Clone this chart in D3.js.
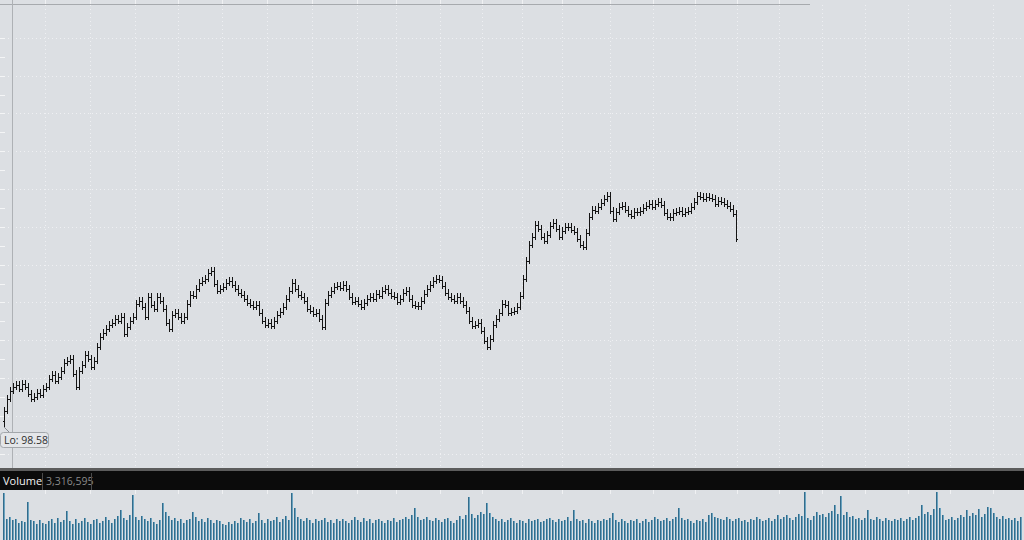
<!DOCTYPE html>
<html><head><meta charset="utf-8">
<script src="https://cdn.jsdelivr.net/npm/d3@7"></script>
<style>html,body{margin:0;padding:0;background:#dcdfe3;overflow:hidden}svg{display:block}</style>
</head><body>
<svg id="c" width="1024" height="540"></svg>
<script>
// ---- data ----
const firstOpen = 99.30;
const lowLabel = 98.58;
const closes = [
100.69,102.28,103.33,103.86,104.13,103.60,104.26,103.86,102.94,102.28,
102.54,103.07,102.81,103.60,103.86,104.92,105.45,104.66,105.19,105.98,
107.04,107.30,107.57,105.58,103.86,105.98,106.77,108.10,107.57,106.51,
107.30,109.16,110.48,111.01,111.54,112.07,112.33,112.86,112.60,113.13,
110.88,111.80,112.60,113.13,114.85,115.24,114.45,113.13,115.77,114.71,
114.18,115.77,115.24,114.18,112.33,111.54,113.39,113.65,113.13,112.60,
113.13,114.85,116.04,115.90,116.83,117.62,117.89,118.15,118.95,119.21,
117.49,116.56,116.83,117.09,117.62,117.89,117.36,116.83,116.30,116.04,
115.51,114.98,114.71,114.45,114.71,113.65,112.60,112.07,112.33,111.93,
112.60,113.39,113.79,114.45,115.51,116.56,117.62,116.83,116.04,115.77,
115.24,114.18,113.92,113.52,113.65,112.86,111.80,114.98,116.04,116.56,
117.09,117.23,116.96,117.36,116.83,115.77,115.11,115.24,114.85,114.45,
114.98,115.51,115.77,115.51,116.17,115.90,116.56,116.83,116.30,115.90,
115.77,115.11,115.51,116.30,116.56,115.51,114.71,114.58,114.50,115.24,
116.17,116.83,117.36,117.89,118.15,118.02,117.23,116.30,115.77,115.51,
115.24,115.77,115.24,114.71,113.92,112.60,111.93,112.07,112.33,111.27,
109.95,109.16,110.21,112.07,112.86,113.65,114.85,114.71,113.65,113.79,
113.92,114.45,115.90,118.15,120.53,122.65,123.71,125.30,124.77,123.71,
123.18,123.97,125.16,125.56,124.77,123.71,124.50,125.03,124.95,124.64,
124.37,123.44,122.65,122.39,124.24,126.36,127.28,127.15,127.68,128.21,
128.74,129.13,127.15,126.09,127.02,127.68,127.81,127.28,126.75,126.49,
127.02,126.95,127.15,127.55,127.81,128.08,127.68,128.08,128.34,127.94,
126.88,126.36,126.30,126.88,127.02,127.15,126.75,127.02,127.15,127.68,
128.34,129.13,129.00,128.74,129.00,128.87,128.74,128.08,128.47,128.34,
128.08,127.81,127.41,126.75,123.44
];
const volumes = [
8.6,3.9,4.2,3.6,3.8,3.1,3.5,3.3,7.0,3.6,3.4,3.0,3.7,3.2,2.9,3.5,3.8,3.1,4.0,3.3,
3.6,5.3,3.4,3.0,3.9,3.2,3.5,4.1,3.3,2.9,3.6,3.8,3.1,3.4,4.3,3.6,3.2,3.9,4.4,5.5,
4.0,3.6,4.6,8.3,4.2,3.7,4.4,3.9,3.5,4.1,3.3,3.0,3.6,6.8,5.2,4.4,3.7,4.0,3.5,3.8,
3.2,3.6,3.9,5.1,4.2,3.4,3.8,3.3,4.0,3.6,3.1,3.7,3.4,3.0,2.8,3.3,2.9,3.5,3.2,4.1,
3.6,3.3,3.8,3.1,3.5,5.0,3.7,3.2,3.9,3.4,3.6,4.2,3.3,3.8,4.4,3.7,8.6,5.9,4.3,3.8,
3.5,4.1,3.6,3.2,3.9,3.4,3.7,4.0,3.3,3.6,3.1,3.8,3.4,3.9,3.5,3.2,3.7,4.2,3.6,3.3,
4.1,3.5,3.8,3.2,3.6,3.9,3.4,3.1,3.7,3.5,4.0,3.3,3.6,3.9,4.3,3.8,4.6,5.9,4.2,3.7,
3.9,4.3,3.6,3.4,4.0,3.7,3.3,3.8,4.1,3.5,3.2,3.6,4.4,3.9,4.6,7.9,4.8,4.0,4.5,5.1,
4.7,6.8,4.9,4.2,3.8,3.5,3.9,3.3,3.6,4.0,3.4,3.1,3.7,3.5,3.2,3.8,3.4,3.6,3.9,3.3,
3.5,3.8,4.1,3.6,3.3,3.9,3.4,3.7,4.2,3.5,5.5,3.8,3.4,3.6,3.2,3.9,3.5,3.1,3.7,3.4,
3.8,3.6,4.0,5.0,3.7,3.3,3.9,3.5,3.2,3.6,3.4,3.8,3.1,3.5,3.9,3.3,3.6,4.2,3.8,3.4,
3.7,4.0,3.5,3.9,4.3,5.9,4.1,3.6,3.8,3.4,3.2,3.7,3.5,3.9,3.3,4.6,5.0,4.3,4.1,3.8,
3.6,4.2,3.9,3.5,3.8,4.0,3.4,3.7,3.3,3.9,3.6,4.2,3.8,3.5,3.7,4.1,3.4,3.9,4.5,3.8,
4.2,4.6,4.0,3.7,4.3,4.8,4.4,8.8,4.1,3.6,4.4,5.2,4.5,4.7,4.2,4.9,5.3,6.4,4.8,8.1,
4.6,5.1,4.2,4.4,3.9,4.1,3.7,4.0,5.5,3.8,3.6,4.2,3.9,3.5,4.0,3.7,3.4,3.8,3.6,4.1,
3.5,3.9,4.3,3.6,4.0,4.4,6.4,4.8,5.1,4.6,5.6,8.8,5.9,4.5,3.6,3.9,4.2,3.7,4.1,4.6,
4.3,5.5,4.4,4.9,4.5,5.7,4.2,4.7,6.1,5.9,5.0,4.3,3.9,4.4,3.8,4.1,3.6,4.0,3.5,4.2
];
const priceGrid = [95,100,105,110,115,120,125,130,135,140,145,150];
const priceMinor = [97.5,102.5,107.5,112.5,117.5,122.5,127.5,132.5,137.5,142.5,147.5];
const monthBreaks = [13.7,28.7,43.7,58,72.7,87.7,102.7,117.7,130.7,145.3,159.3,172.7,186,202,216.3,230.3,244.3,258.3,272.7,287,301.3,315.3,329.7];
const volumeLabel = "Volume";
const volumeValue = "3,316,595";

// ---- scales ----
const svg = d3.select("#c");
const W = 1024, H = 540;
const x = d3.scaleLinear().domain([0, 340]).range([4, 1024]);
const y = d3.scaleLinear().domain([95, 155]).range([453.6, 0]);
const yv = d3.scaleLinear().domain([0, 8.8]).range([540, 492]);
const FONT = "Open Sans, DejaVu Sans, sans-serif";

svg.append("rect").attr("width", W).attr("height", H).attr("fill", "#dcdfe3");

// grid
const g = svg.append("g");
g.selectAll("line.h").data(priceGrid).join("line")
  .attr("x1", 0).attr("x2", W)
  .attr("y1", d => Math.round(y(d)) + 0.5).attr("y2", d => Math.round(y(d)) + 0.5)
  .attr("stroke", "#f3f4f6").attr("stroke-dasharray", "1,3").attr("opacity", 0.85);
g.selectAll("line.v").data(monthBreaks).join("line")
  .attr("x1", d => Math.round(x(d)) + 0.5).attr("x2", d => Math.round(x(d)) + 0.5)
  .attr("y1", 5).attr("y2", 469)
  .attr("stroke", "#f3f4f6").attr("stroke-dasharray", "1,3").attr("opacity", 0.85);
// left edge ticks
g.selectAll("line.lt").data(priceGrid.concat(priceMinor)).join("line")
  .attr("x1", 0).attr("x2", 5)
  .attr("y1", d => Math.round(y(d)) + 0.5).attr("y2", d => Math.round(y(d)) + 0.5)
  .attr("stroke", "#f4f5f6");
// top line with ticks
svg.append("line").attr("x1", 0).attr("x2", 810).attr("y1", 4.5).attr("y2", 4.5).attr("stroke", "#a7aaae");
svg.selectAll("line.tt").data(monthBreaks.filter(d => x(d) < 810)).join("line")
  .attr("x1", d => Math.round(x(d)) + 0.5).attr("x2", d => Math.round(x(d)) + 0.5)
  .attr("y1", 0).attr("y2", 4).attr("stroke", "#f0f1f3");
// crosshair
svg.append("line").attr("x1", 12.5).attr("x2", 12.5).attr("y1", 0).attr("y2", 470).attr("stroke", "#aeb1b5");

// OHLC bars
const bars = closes.map((c, i) => {
  const o = i === 0 ? firstOpen : closes[i - 1];
  const pad = 0.5;
  return { i, o, c, h: Math.max(o, c) + pad, l: i === 0 ? lowLabel : Math.min(o, c) - pad };
});
const bg = svg.append("g").attr("fill", "#141414");
bars.forEach(b => {
  const xx = Math.round(x(b.i));
  const yh = Math.round(y(b.h)), yl = Math.round(y(b.l));
  bg.append("rect").attr("x", xx).attr("y", yh).attr("width", 1).attr("height", Math.max(1, yl - yh));
  bg.append("rect").attr("x", xx - 1).attr("y", Math.round(y(b.o))).attr("width", 1).attr("height", 1);
  bg.append("rect").attr("x", xx + 1).attr("y", Math.round(y(b.c))).attr("width", 1).attr("height", 1);
});

// Lo label
const lx = Math.round(x(0)), ly = Math.round(y(lowLabel));
svg.append("line").attr("x1", lx).attr("y1", ly).attr("x2", lx + 6).attr("y2", ly + 6).attr("stroke", "#8a8e93");
svg.append("rect").attr("x", 0.5).attr("y", 432.5).attr("width", 48).attr("height", 15).attr("rx", 3)
  .attr("fill", "#e4e6e9").attr("stroke", "#a3a7ab");
svg.append("text").attr("x", 4).attr("y", 444).attr("font-family", FONT)
  .attr("font-size", 10.5).attr("fill", "#2e2e2e").text("Lo: " + d3.format(".2f")(lowLabel));

// volume header
svg.append("rect").attr("x", 0).attr("y", 468).attr("width", W).attr("height", 3).attr("fill", "#5c5c5c");
svg.append("rect").attr("x", 0).attr("y", 471).attr("width", W).attr("height", 19).attr("fill", "#0b0b0b");
svg.append("text").attr("x", 3).attr("y", 485).attr("font-family", FONT)
  .attr("font-size", 11).attr("fill", "#f2f2f2").text(volumeLabel);
svg.append("line").attr("x1", 42.5).attr("x2", 42.5).attr("y1", 473).attr("y2", 490).attr("stroke", "#4a4a4a");
svg.append("text").attr("x", 46).attr("y", 485).attr("font-family", FONT)
  .attr("font-size", 10.5).attr("fill", "#8a8a8a").text(volumeValue);
svg.append("line").attr("x1", 91.5).attr("x2", 91.5).attr("y1", 473).attr("y2", 490).attr("stroke", "#4a4a4a");

// volume pane ticks
svg.selectAll("line.vt").data(monthBreaks).join("line")
  .attr("x1", d => Math.round(x(d)) + 0.5).attr("x2", d => Math.round(x(d)) + 0.5)
  .attr("y1", 490).attr("y2", 494).attr("stroke", "#f0f1f3");

// volume bars
const vg = svg.append("g");
vg.selectAll("rect.vb").data(volumes).join("rect")
  .attr("x", (d, j) => Math.round(x(j)) - 1).attr("y", d => Math.round(yv(d)))
  .attr("width", 2).attr("height", d => 540 - Math.round(yv(d)))
  .attr("fill", "#6aa3c0");
vg.selectAll("rect.ve").data(volumes).join("rect")
  .attr("x", (d, j) => Math.round(x(j)) - 1).attr("y", d => Math.round(yv(d)))
  .attr("width", 1).attr("height", d => 540 - Math.round(yv(d)))
  .attr("fill", "#336c8b");
</script>
</body></html>
